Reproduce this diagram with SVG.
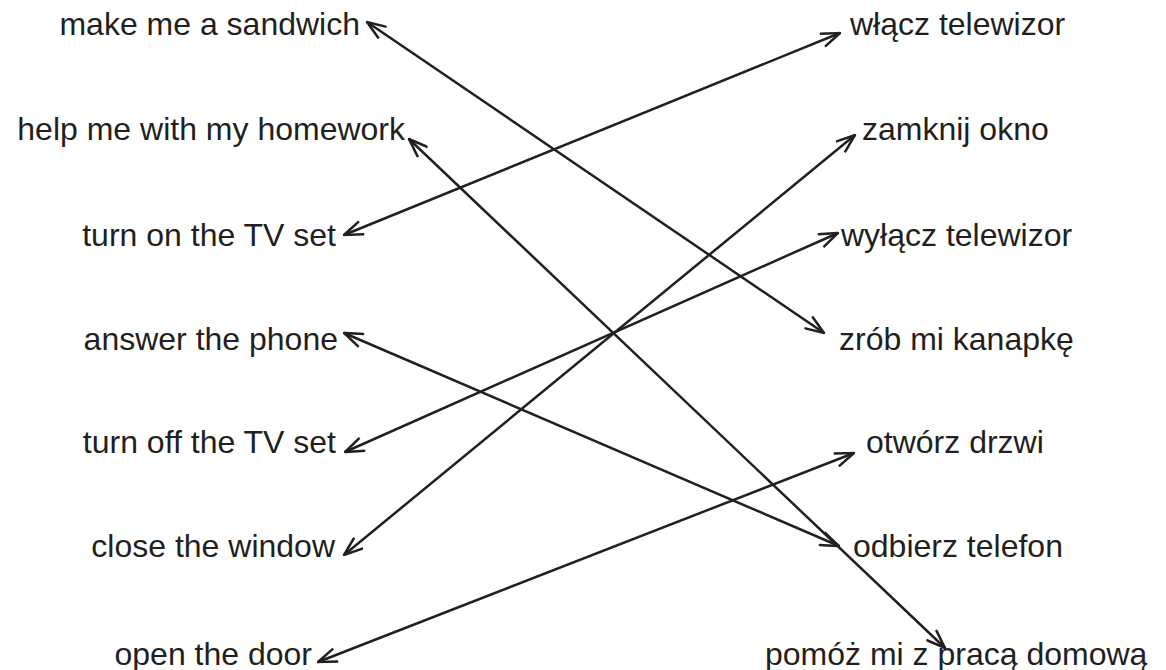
<svg xmlns="http://www.w3.org/2000/svg" width="1166" height="670" viewBox="0 0 1166 670">
<style>
text{font-family:"Liberation Sans",Arial,Helvetica,sans-serif;font-size:32px;fill:#231f20}
.l{text-anchor:end}
.r{text-anchor:start}
.c line{stroke:#231f20;stroke-width:2.5;fill:none;marker-start:url(#ah);marker-end:url(#ah)}
</style>
<defs>
<marker id="ah" viewBox="0 0 22 16" refX="21" refY="8" markerWidth="22" markerHeight="16" markerUnits="userSpaceOnUse" orient="auto-start-reverse">
<path d="M2,1 L21,8 L2,15" fill="none" stroke="#231f20" stroke-width="2.5"/>
</marker>
</defs>
<rect width="1166" height="670" fill="#fff"/>
<g id="left-1"><text class="l" x="360" y="35">make me a sandwich</text></g>
<g id="left-2"><text class="l" x="405" y="140">help me with my homework</text></g>
<g id="left-3"><text class="l" x="336" y="246">turn on the TV set</text></g>
<g id="left-4"><text class="l" x="338" y="350">answer the phone</text></g>
<g id="left-5"><text class="l" x="336" y="453">turn off the TV set</text></g>
<g id="left-6"><text class="l" x="335" y="557">close the window</text></g>
<g id="left-7"><text class="l" x="312" y="665">open the door</text></g>
<g id="right-1"><text class="r" x="850" y="35">włącz telewizor</text></g>
<g id="right-2"><text class="r" x="862" y="140">zamknij okno</text></g>
<g id="right-3"><text class="r" x="841" y="246">wyłącz telewizor</text></g>
<g id="right-4"><text class="r" x="839" y="350">zrób mi kanapkę</text></g>
<g id="right-5"><text class="r" x="866" y="453">otwórz drzwi</text></g>
<g id="right-6"><text class="r" x="853" y="557">odbierz telefon</text></g>
<g id="right-7"><text class="r" x="765" y="665">pomóż mi z pracą domową</text></g>
<g id="connectors" class="c">
<line x1="367" y1="22" x2="824" y2="333"/>
<line x1="409" y1="139" x2="945" y2="648"/>
<line x1="344" y1="235" x2="840" y2="33"/>
<line x1="344" y1="333" x2="839" y2="546"/>
<line x1="345" y1="452" x2="838" y2="233"/>
<line x1="344" y1="555" x2="855" y2="135"/>
<line x1="318" y1="662" x2="854" y2="453"/>
</g>
</svg>
